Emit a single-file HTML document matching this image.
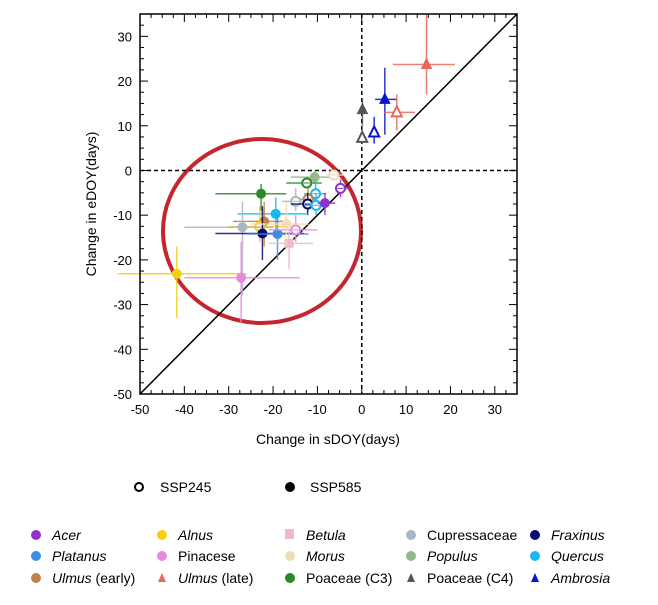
<!DOCTYPE html>
<html><head><meta charset="utf-8">
<style>
html,body{margin:0;padding:0;background:#fff;width:658px;height:605px;overflow:hidden}
svg{display:block;font-family:"Liberation Sans",sans-serif}
</style></head>
<body>
<svg id="chart" width="658" height="605" viewBox="0 0 658 605"></svg>
<script>
const species = ["Acer","Alnus","Betula","Cupressaceae","Fraxinus","Platanus","Pinacese","Morus","Populus","Quercus","Ulmus (early)","Ulmus (late)","Poaceae (C3)","Poaceae (C4)","Ambrosia"];
const speciesColor = {"Acer":"#9030d0","Alnus":"#f5cf10","Betula":"#f2b8c8","Cupressaceae":"#a8b6c6","Fraxinus":"#0b0b6e","Platanus":"#3a8ee6","Pinacese":"#e68ae0","Morus":"#f3dab8","Populus":"#93b88e","Quercus":"#18b8f0","Ulmus (early)":"#c0824a","Ulmus (late)":"#e8685a","Poaceae (C3)":"#2a8a2a","Poaceae (C4)":"#555555","Ambrosia":"#0a14c8"};
const speciesShape = {"Betula":"square","Ulmus (late)":"tri","Poaceae (C4)":"tri","Ambrosia":"tri"};
// points: species, scenario, sDOY, eDOY, xlo, xhi, ylo, yhi
const ptSpecies = ["Populus","Poaceae (C3)","Morus","Acer","Quercus","Ulmus (early)","Cupressaceae","Fraxinus","Quercus","Acer","Poaceae (C3)","Quercus","Ulmus (early)","Alnus","Cupressaceae","Fraxinus","Platanus","Pinacese","Betula","Alnus","Pinacese","Ulmus (late)","Ambrosia","Ulmus (late)","Poaceae (C4)","Ambrosia","Poaceae (C4)","Morus"];
const ptScenario = ["585","245","245","245","245","245","245","245","245","585","585","585","585","245","585","585","585","245","585","585","585","585","585","245","585","245","245","585"];
const ptX = [-10.6,-12.4,-6.3,-4.8,-10.4,-12.1,-14.9,-12.2,-10.3,-8.3,-22.7,-19.4,-22,-23,-26.9,-22.4,-19,-14.9,-16.4,-41.7,-27.2,14.6,5.2,7.9,0.15,2.8,0.1,-17];
const ptY = [-1.5,-2.8,-1,-4,-5.2,-6.4,-6.9,-7.5,-7.8,-7.3,-5.2,-9.7,-11.4,-12.6,-12.7,-14.1,-14.2,-13.3,-16.3,-23.1,-24,23.7,15.9,13,13.6,8.5,7.3,-12];
const ptXlo = [-16,-17,-8,-6,-13,-14,-18,-16,-13,-10,-33,-28,-29,-30,-40,-33,-26,-21,-21,-55,-40,7,3,5,0,2,0,-25];
const ptXhi = [-6,-9,-4,-3,-8,-10,-10,-9,-8,-6,-17,-12,-17,-17,-20,-13,-12,-10,-11,-26,-14,21,8,12,0.4,3.5,0.3,-12];
const ptYlo = [-3,-4,-2,-6,-7,-9,-9,-10,-10,-10,-9,-14,-17,-16,-28,-20,-20,-16,-22,-33,-34,17,8,9,10,6,6,-17];
const ptYhi = [0,-1.5,0,-2,-3,-4,-4,-5,-5,-5,-3,-6,-7,-8,-7,-8,-10,-10,-13,-17,-16,35,23,17,16,12,9,-7];

const xDomain=[-50,35], yDomain=[-50,35];
const xTicks=[-50,-40,-30,-20,-10,0,10,20,30];
const yTicks=[-50,-40,-30,-20,-10,0,10,20,30];
const L=140,R=517,T=14,B=394;
const sx=v=>L+(v-xDomain[0])/(xDomain[1]-xDomain[0])*(R-L);
const sy=v=>B-(v-yDomain[0])/(yDomain[1]-yDomain[0])*(B-T);
const NS="http://www.w3.org/2000/svg";
const svg=document.getElementById('chart');
function mk(tag,attrs,parent){const e=document.createElementNS(NS,tag);for(const k in attrs)e.setAttribute(k,attrs[k]);(parent||svg).appendChild(e);return e;}

// red ellipse
const ell=mk('ellipse',{cx:262,cy:231,rx:99,ry:92,fill:'none',stroke:'#c4262e','stroke-width':4});


// 1:1 line
const d1=mk('line',{x1:sx(-50),y1:sy(-50),x2:sx(35),y2:sy(35),stroke:'#000','stroke-width':1.5});


// zero lines
const zx=mk('line',{x1:L,y1:sy(0),x2:R,y2:sy(0),stroke:'#000','stroke-width':1.5,'stroke-dasharray':'4,3'});


const zy=mk('line',{x1:sx(0),y1:T,x2:sx(0),y2:B,stroke:'#000','stroke-width':1.5,'stroke-dasharray':'4,3'});



// points
for(let i=0;i<ptX.length;i++){
  const c=speciesColor[ptSpecies[i]];
  const g=mk('g',{});
  
  
  mk('line',{x1:sx(ptXlo[i]),x2:sx(ptXhi[i]),y1:sy(ptY[i]),y2:sy(ptY[i]),stroke:c,'stroke-width':1.5,opacity:0.85},g);
  mk('line',{x1:sx(ptX[i]),x2:sx(ptX[i]),y1:sy(ptYlo[i]),y2:sy(ptYhi[i]),stroke:c,'stroke-width':1.5,opacity:0.85},g);
  const px=sx(ptX[i]),py=sy(ptY[i]),open=ptScenario[i]==='245';
  const shape=speciesShape[ptSpecies[i]]||'circle';
  const st={fill:open?'#fff':c,stroke:c,'stroke-width':open?2:1};
  if(shape==='circle') mk('circle',Object.assign({cx:px,cy:py,r:4.5},st),g);
  else if(shape==='square') mk('rect',Object.assign({x:px-4,y:py-4,width:8,height:8},st),g);
  else mk('polygon',Object.assign({points:`${px},${py-6} ${px-5},${py+4} ${px+5},${py+4}`},st),g);
  if(open&&shape==='circle'){mk('line',{x1:px-3,x2:px+3,y1:py,y2:py,stroke:c,'stroke-width':1},g);}
}

// frame and ticks
const fr=mk('rect',{x:L,y:T,width:R-L,height:B-T,fill:'none',stroke:'#000','stroke-width':1.5});


for(let v=-50;v<=35;v+=2.5){
  const major=(v%10===0), len=major?8:4;
  mk('line',{x1:sx(v),x2:sx(v),y1:B,y2:B-len,stroke:'#000','stroke-width':1});
  mk('line',{x1:sx(v),x2:sx(v),y1:T,y2:T+len,stroke:'#000','stroke-width':1});
  mk('line',{x1:L,x2:L+len,y1:sy(v),y2:sy(v),stroke:'#000','stroke-width':1});
  mk('line',{x1:R,x2:R-len,y1:sy(v),y2:sy(v),stroke:'#000','stroke-width':1});
}
xTicks.forEach(v=>{const t=mk('text',{x:sx(v),y:B+20,'text-anchor':'middle','font-size':13});t.textContent=v;

});
yTicks.forEach(v=>{const t=mk('text',{x:L-8,y:sy(v)+5,'text-anchor':'end','font-size':13});t.textContent=v;

});
const xt=mk('text',{x:328,y:444,'text-anchor':'middle','font-size':14});xt.textContent='Change in sDOY(days)';


const yt=mk('text',{x:0,y:0,'text-anchor':'middle','font-size':14,transform:'translate(96,204) rotate(-90)'});yt.textContent='Change in eDOY(days)';



// scenario legend
const sl=mk('g',{});


mk('circle',{cx:139,cy:487,r:4,fill:'#fff',stroke:'#000','stroke-width':2},sl);
let t1=mk('text',{x:160,y:492,'font-size':14},sl);t1.textContent='SSP245';
mk('circle',{cx:290,cy:487,r:5,fill:'#000'},sl);
let t2=mk('text',{x:310,y:492,'font-size':14},sl);t2.textContent='SSP585';

// species legend
const legOrder=[["Acer","Alnus","Betula","Cupressaceae","Fraxinus"],["Platanus","Pinacese","Morus","Populus","Quercus"],["Ulmus (early)","Ulmus (late)","Poaceae (C3)","Poaceae (C4)","Ambrosia"]];
const italic={"Acer":1,"Alnus":1,"Betula":1,"Fraxinus":1,"Platanus":1,"Morus":1,"Populus":1,"Quercus":1,"Ulmus (early)":1,"Ulmus (late)":1,"Ambrosia":1};
const colX=[36,162,290,411,535], rowY=[540,561,583];
legOrder.forEach((row,ri)=>row.forEach((s,ci)=>{
  const g=mk('g',{});
  
  
  const c=speciesColor[s],cx=colX[ci],cy=rowY[ri]-5,shape=speciesShape[s]||'circle';
  if(shape==='circle') mk('circle',{cx,cy,r:5,fill:c},g);
  else if(shape==='square') mk('rect',{x:cx-5,y:cy-6,width:9,height:10,fill:c},g);
  else mk('polygon',{points:`${cx},${cy-5} ${cx-4},${cy+4} ${cx+4},${cy+4}`,fill:c},g);
  const t=mk('text',{x:cx+16,y:rowY[ri],'font-size':14},g);
  if(s.startsWith('Ulmus')){t.innerHTML='<tspan font-style="italic">Ulmus</tspan> '+s.slice(6);}
  else{t.textContent=s;if(italic[s])t.setAttribute('font-style','italic');}
}));
</script>
</body></html>
